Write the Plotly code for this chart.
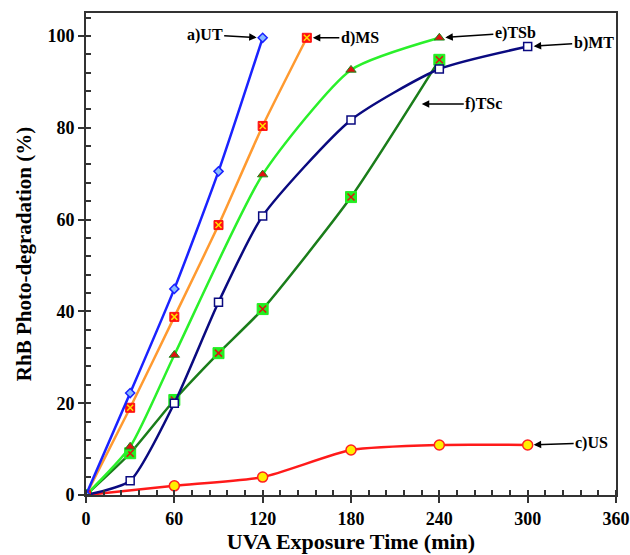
import plotly.graph_objects as go

# ---- data ----
ut_x = [0, 30, 60, 90, 120]
ut_y = [0, 22.2, 44.9, 70.5, 99.6]

ms_x = [0, 30, 60, 90, 120, 150]
ms_y = [0, 19.0, 38.8, 58.8, 80.4, 99.6]

tsb_x = [0, 30, 60, 120, 180, 240]
tsb_y = [0, 10.5, 30.5, 69.8, 92.6, 99.6]

mt_x = [0, 30, 60, 90, 120, 180, 240, 300]
mt_y = [0, 3.1, 20.0, 42.0, 60.8, 81.7, 92.8, 97.7]

tsc_x = [0, 30, 60, 90, 120, 180, 240]
tsc_y = [0, 9.1, 20.7, 30.9, 40.5, 64.9, 94.8]

us_x = [0, 60, 120, 180, 240, 300]
us_y = [0, 2.0, 3.9, 9.8, 10.9, 10.9]

labels = ["a)UT", "d)MS", "e)TSb", "b)MT", "f)TSc", "c)US"]
x_ticks = [0, 60, 120, 180, 240, 300, 360]
y_ticks = [0, 20, 40, 60, 80, 100]

FONT = "Liberation Serif"

fig = go.Figure()

def add_series(x, y, lc, sym, size, fill, edge, ew, overlay=None):
    fig.add_trace(go.Scatter(
        x=x, y=y, mode="lines+markers",
        line=dict(color=lc, width=2.5, shape="spline", smoothing=0.6),
        marker=dict(symbol=sym, size=size, color=fill, line=dict(color=edge, width=ew)),
        showlegend=False, hoverinfo="skip"))
    if overlay:
        osym, ocol, osize = overlay
        fig.add_trace(go.Scatter(
            x=x, y=y, mode="markers",
            marker=dict(symbol=osym, size=osize, color=ocol, line=dict(color=ocol, width=1.5)),
            showlegend=False, hoverinfo="skip"))

add_series(us_x, us_y, "#ff1a1a", "circle", 10, "#ffee00", "#ff2020", 1.5)
add_series(tsc_x, tsc_y, "#1a7d1a", "square", 11, "#22ee22", "#22ee22", 1, ("x-thin-open", "#e01010", 7))
add_series(mt_x, mt_y, "#0a0a80", "square", 8, "white", "#0a0a80", 1.5)
add_series(tsb_x, tsb_y, "#2af02a", "triangle-up", 9, "#e01010", "#1a8a1a", 1)
add_series(ms_x, ms_y, "#ff9a30", "square", 9, "#ff1010", "#ff1010", 1, ("x-thin-open", "#ffe000", 6))
add_series(ut_x, ut_y, "#1a22ff", "diamond", 7, "#88bbff", "#1a22ff", 1.5)

# annotations with arrows
ann_pts = [
    (ut_x[-1], ut_y[-1], -58, -3),
    (ms_x[-1], ms_y[-1], 53, 0),
    (tsb_x[-1], tsb_y[-1], 76, -5),
    (mt_x[-1], mt_y[-1], 66, -4),
    (224, 85.2, 68, 0),
    (us_x[-1], us_y[-1], 64, -2),
]
for lab, (px, py, ax, ay) in zip(labels, ann_pts):
    fig.add_annotation(x=px, y=py, ax=ax, ay=ay, text="<b>" + lab + "</b>", showarrow=True,
                       arrowhead=2, arrowsize=1, arrowwidth=1.5, arrowcolor="black",
                       standoff=6, font=dict(family=FONT, size=16, color="black"))

axis_common = dict(showline=True, linecolor="#333333", linewidth=2, mirror=True,
                   ticks="outside", ticklen=6, tickwidth=1.5, tickcolor="#333333",
                   showgrid=False, zeroline=False, automargin=False,
                   tickfont=dict(family=FONT, size=18, color="black"))

fig.update_layout(
    width=630, height=555,
    margin=dict(l=86, r=14, t=13, b=60),
    paper_bgcolor="white", plot_bgcolor="white",
    xaxis=dict(range=[0, 360], tickvals=x_ticks,
               ticktext=["<b>%d</b>" % v for v in x_ticks], **axis_common,
               minor=dict(dtick=12, ticks="inside", ticklen=5, tickcolor="#333333", tickwidth=1.5),
               title=dict(text="<b>UVA Exposure Time (min)</b>", standoff=6,
                          font=dict(family=FONT, size=22, color="black"))),
    yaxis=dict(range=[0, 105], tickvals=y_ticks,
               ticktext=["<b>%d</b>" % v for v in y_ticks], **axis_common,
               minor=dict(dtick=4, ticks="inside", ticklen=5, tickcolor="#333333", tickwidth=1.5),
               title=dict(text="<b>RhB Photo-degradation (%)</b>", standoff=10,
                          font=dict(family=FONT, size=21, color="black"))),
)

fig.write_html("out.html")
